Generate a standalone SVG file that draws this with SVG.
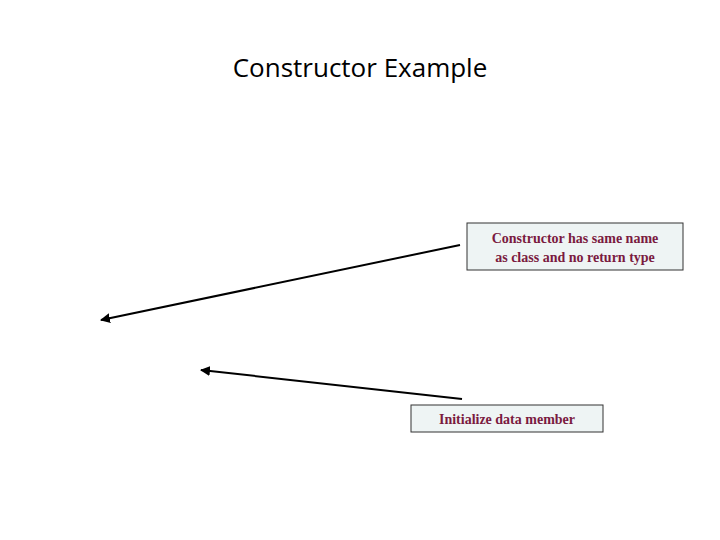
<svg xmlns="http://www.w3.org/2000/svg" width="720" height="540" viewBox="0 0 720 540">
<style>
.box{fill:#eef4f4;stroke:#333;stroke-width:1}
.lbl{font-family:"Liberation Serif",serif;font-weight:bold;font-size:14px;fill:#7a1a40;text-anchor:middle}
.ln{stroke:#000;stroke-width:2;fill:none;marker-end:url(#ah)}
</style>
<defs><marker id="ah" viewBox="0 0 10 10" refX="9" refY="5" markerWidth="5" markerHeight="5" orient="auto"><path d="M0,0L10,5L0,10z" fill="#000"/></marker></defs>
<rect width="720" height="540" fill="#fff"/>
<text x="360" y="77" font-family="Open Sans,sans-serif" font-size="26" text-anchor="middle" fill="#000">Constructor Example</text>
<g id="connectors">
<path class="ln" d="M460,245 L101,320"/>
<path class="ln" d="M462,399 L201,370"/>
</g>
<g id="n1"><rect class="box" x="467" y="223" width="216" height="47"/>
<text class="lbl" x="575" y="243">Constructor has same name</text>
<text class="lbl" x="575" y="262">as class and no return type</text></g>
<g id="n2"><rect class="box" x="411" y="405" width="192" height="27"/>
<text class="lbl" x="507" y="424">Initialize data member</text></g>
</svg>
